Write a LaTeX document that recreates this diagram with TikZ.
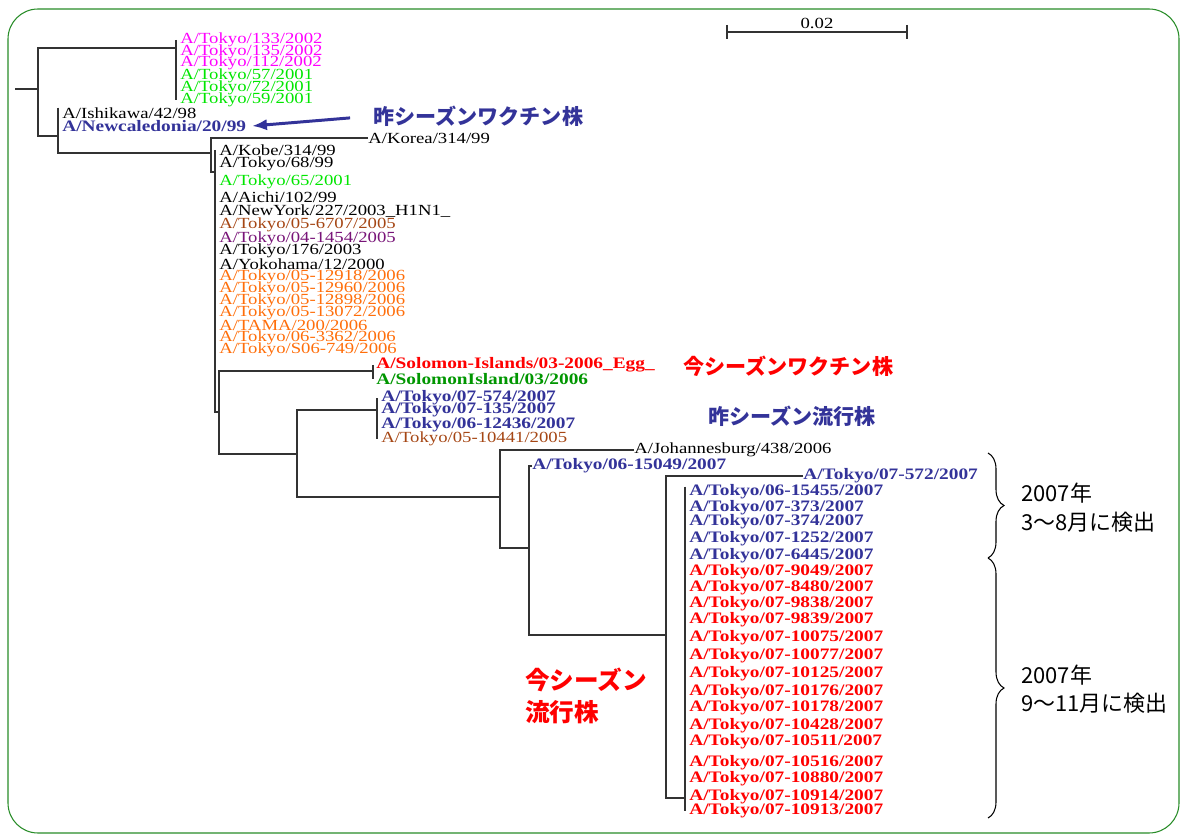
\documentclass[tikz,border=0pt]{standalone}
\usepackage{fontspec}
\setmainfont{Liberation Serif}[FakeStretch=1.21]
\newfontfamily\jp{Noto Sans CJK JP}
\usetikzlibrary{arrows.meta,positioning,calc,decorations.pathreplacing}
\definecolor{cFrame}{RGB}{40,140,40}
\definecolor{cMag}{RGB}{255,0,255}
\definecolor{cLime}{RGB}{0,230,0}
\definecolor{cNavy}{RGB}{51,51,153}
\definecolor{cBrown}{RGB}{165,70,20}
\definecolor{cPurple}{RGB}{120,20,120}
\definecolor{cOrange}{RGB}{255,110,10}
\definecolor{cRed}{RGB}{255,0,0}
\definecolor{cDkGreen}{RGB}{0,150,0}

\begin{document}
\begin{tikzpicture}[x=0.02cm,y=-0.02cm,>=Stealth,
  lbl/.style={anchor=west,inner sep=0pt,font=\fontsize{8.8}{10}\selectfont},
  blbl/.style={lbl,font=\fontsize{9.1}{10}\selectfont\bfseries},
  jlbl/.style={anchor=west,inner sep=0pt,font=\jp\bfseries\fontsize{12}{14}\selectfont},
  jreg/.style={anchor=west,inner sep=0pt,font=\jp\fontsize{12.5}{14}\selectfont},
  br/.style={draw=black!80,line width=0.7pt}]
\useasboundingbox (0,0) rectangle (1183,834);
\draw[cFrame,line width=0.6pt,rounded corners=0.6cm] (8,9) rectangle (1179,833);
% scale bar
\coordinate (sbL) at (727,32); \coordinate (sbR) at (907,32);
\draw[br] (sbL) -- (sbR); \draw[br] (sbL) ++(0,-7) -- ++(0,14); \draw[br] (sbR) ++(0,-7) -- ++(0,14);
\node[lbl,anchor=south] (sbtxt) at ($(sbL)!0.5!(sbR)+(0,-3)$) {0.02};
% leaves
\node[lbl,cMag] (t133) at (180,40) {A/Tokyo/133/2002}; \node[lbl,cMag] (t135) at (180,52) {A/Tokyo/135/2002}; \node[lbl,cMag] (t112) at (180,63) {A/Tokyo/112/2002};
\node[lbl,cLime] (t57) at (180,76) {A/Tokyo/57/2001}; \node[lbl,cLime] (t72) at (180,88) {A/Tokyo/72/2001}; \node[lbl,cLime] (t59) at (180,100) {A/Tokyo/59/2001};
\node[lbl] (tIsh) at (62,113) {A/Ishikawa/42/98}; \node[blbl,cNavy] (tNC) at (62,126) {A/Newcaledonia/20/99};
\node[lbl] (tKor) at (368,138) {A/Korea/314/99};
\node[lbl] (tKob) at (219,150) {A/Kobe/314/99}; \node[lbl] (tT68) at (219,164) {A/Tokyo/68/99}; \node[lbl,cLime] (tT65) at (219,182) {A/Tokyo/65/2001};
\node[lbl] (tAic) at (219,197) {A/Aichi/102/99}; \node[lbl] (tNY) at (219,211) {A/NewYork/227/2003\_H1N1\_};
\node[lbl,cBrown] (t6707) at (219,225) {A/Tokyo/05-6707/2005}; \node[lbl,cPurple] (t1454) at (219,239) {A/Tokyo/04-1454/2005};
\node[lbl] (t176) at (219,251) {A/Tokyo/176/2003}; \node[lbl] (tYok) at (219,264) {A/Yokohama/12/2000};
\node[lbl,cOrange] (t12918) at (219,277) {A/Tokyo/05-12918/2006}; \node[lbl,cOrange] (t12960) at (219,289) {A/Tokyo/05-12960/2006};
\node[lbl,cOrange] (t12898) at (219,301) {A/Tokyo/05-12898/2006}; \node[lbl,cOrange] (t13072) at (219,313) {A/Tokyo/05-13072/2006};
\node[lbl,cOrange] (tTAMA) at (219,325) {A/TAMA/200/2006}; \node[lbl,cOrange] (t3362) at (219,338) {A/Tokyo/06-3362/2006};
\node[lbl,cOrange] (tS06) at (219,350) {A/Tokyo/S06-749/2006};
\node[blbl,cRed] (tSol1) at (376,365) {A/Solomon-Islands/03-2006\_Egg\_}; \node[blbl,cDkGreen] (tSol2) at (376,379) {A/SolomonIsland/03/2006};
\node[blbl,cNavy] (t574) at (381,398) {A/Tokyo/07-574/2007}; \node[blbl,cNavy] (t135b) at (381,410) {A/Tokyo/07-135/2007};
\node[blbl,cNavy] (t12436) at (381,425) {A/Tokyo/06-12436/2007}; \node[lbl,cBrown] (t441) at (381,439) {A/Tokyo/05-10441/2005};
\node[lbl] (tJoh) at (634,450) {A/Johannesburg/438/2006};
\node[blbl,cNavy] (t15049) at (532,466) {A/Tokyo/06-15049/2007};
\node[blbl,cNavy] (t572) at (803,476) {A/Tokyo/07-572/2007};
\node[blbl,cNavy] (t15455) at (689,492) {A/Tokyo/06-15455/2007}; \node[blbl,cNavy] (t373) at (689,508) {A/Tokyo/07-373/2007};
\node[blbl,cNavy] (t374) at (689,522) {A/Tokyo/07-374/2007}; \node[blbl,cNavy] (t1252) at (689,539) {A/Tokyo/07-1252/2007};
\node[blbl,cNavy] (t6445) at (689,556) {A/Tokyo/07-6445/2007};
\node[blbl,cRed] (t9049) at (689,572) {A/Tokyo/07-9049/2007}; \node[blbl,cRed] (t8480) at (689,588) {A/Tokyo/07-8480/2007};
\node[blbl,cRed] (t9838) at (689,604) {A/Tokyo/07-9838/2007}; \node[blbl,cRed] (t9839) at (689,620) {A/Tokyo/07-9839/2007};
\node[blbl,cRed] (t10075) at (689,638) {A/Tokyo/07-10075/2007}; \node[blbl,cRed] (t10077) at (689,656) {A/Tokyo/07-10077/2007};
\node[blbl,cRed] (t10125) at (689,674) {A/Tokyo/07-10125/2007}; \node[blbl,cRed] (t10176) at (689,692) {A/Tokyo/07-10176/2007};
\node[blbl,cRed] (t10178) at (689,708) {A/Tokyo/07-10178/2007}; \node[blbl,cRed] (t10428) at (689,726) {A/Tokyo/07-10428/2007};
\node[blbl,cRed] (t10511) at (689,742) {A/Tokyo/07-10511/2007}; \node[blbl,cRed] (t10516) at (689,763) {A/Tokyo/07-10516/2007};
\node[blbl,cRed] (t10880) at (689,779) {A/Tokyo/07-10880/2007}; \node[blbl,cRed] (t10914) at (689,797) {A/Tokyo/07-10914/2007};
\node[blbl,cRed] (t10913) at (689,811) {A/Tokyo/07-10913/2007};
% inner nodes
\coordinate (n0) at (15,89); \coordinate (n1) at (38,89); \coordinate (n2) at (176,48); \coordinate (n3) at (58,136);
\coordinate (n4) at (211,153); \coordinate (n5) at (215,172); \coordinate (n6) at (219,412); \coordinate (n7) at (297,454);
\coordinate (n8) at (377,410); \coordinate (n9) at (500,497); \coordinate (n10) at (529,548); \coordinate (n11) at (666,635);
\coordinate (n12) at (685,798); \coordinate (sol) at (373,371);
% branches
\draw[br] (n0) -- (n1); \draw[br] (n1) |- (n2); \draw[br] (n1) |- (n3);
\draw[br] (n2 |- t133) -- (n2 |- t59);
\draw[br] ([yshift=3pt]n3 |- tIsh) |- (n4);
\draw[br] (tKor.west) -- (n4 |- tKor) -- (n4 |- n5) -- (n5);
\draw[br] (n5 |- tKob) -- (n5 |- n6) -- (n6);
\draw[br] (sol |- tSol1) -- (sol |- tSol2); \draw[br] (sol) -| (n6) |- (n7);
\draw[br] (n8 |- t574) -- (n8 |- t441); \draw[br] (n8) -| (n7) |- (n9);
\draw[br] (tJoh.west) -| (n9) |- (n10);
\draw[br] (t15049.west) -| (n10) |- (n11);
\draw[br] (t572.west) -| (n11) |- (n12);
\draw[br] ([yshift=3pt]n12 |- t15455) -- (n12 |- t10913);
% notes
\node[jlbl,cNavy] (vacold) at (373,116) {昨シーズンワクチン株};
\coordinate (arrtip) at (252,126);
\draw[cNavy,line width=1.7pt,-{Latex[length=8.5pt,width=6.5pt]},shorten <=0.46cm] (vacold.west) -- (arrtip);
\node[jlbl,cRed] (vacnew) at (683,366) {今シーズンワクチン株};
\node[jlbl,cNavy] (epiold) at (708,416) {昨シーズン流行株};
\node[jlbl,cRed,font=\jp\bfseries\fontsize{14}{18}\selectfont,align=left] (epinew) at (525,696) {今シーズン\\流行株};
% braces
\coordinate (bA1) at (988,453); \coordinate (bA2) at (988,558); \coordinate (bB2) at (988,818);
\draw[decorate,decoration={brace,amplitude=0.32cm},line width=0.6pt] (bA1) -- (bA2);
\draw[decorate,decoration={brace,amplitude=0.32cm},line width=0.6pt] (bA2) -- (bB2);
\node[jreg] (detA1) at (1021,493) {2007年}; \node[jreg] (detA2) at (1021,522) {3～8月に検出};
\node[jreg] (detB1) at (1021,675) {2007年}; \node[jreg] (detB2) at (1021,703) {9～11月に検出};
\end{tikzpicture}
\end{document}
